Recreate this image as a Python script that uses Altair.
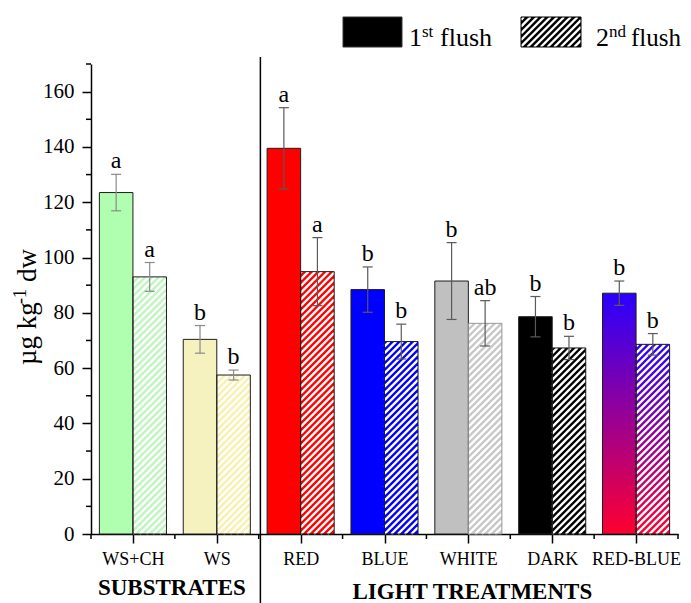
import json
import altair as alt
import pandas as pd

# ---------------- data ----------------
categories = ["WS+CH", "WS", "RED", "BLUE", "WHITE", "DARK", "RED-BLUE"]
groups = ["SUBSTRATES", "SUBSTRATES", "LIGHT TREATMENTS", "LIGHT TREATMENTS",
          "LIGHT TREATMENTS", "LIGHT TREATMENTS", "LIGHT TREATMENTS"]
flush_names = ["1st flush", "2nd flush"]
flush1_mean = [123.5, 70.4, 139.5, 88.4, 91.5, 78.6, 87.1]
flush1_err = [6.6, 5.0, 14.7, 8.2, 13.9, 7.3, 4.4]
flush2_mean = [93.0, 57.5, 94.9, 69.6, 76.2, 67.3, 68.6]
flush2_err = [5.2, 1.8, 12.3, 6.3, 8.2, 4.2, 3.9]
flush1_letters = ["a", "b", "a", "b", "b", "b", "b"]
flush2_letters = ["a", "b", "a", "b", "ab", "b", "b"]
y_ticks = [0, 20, 40, 60, 80, 100, 120, 140, 160]
y_minor = [10, 30, 50, 70, 90, 110, 130, 150, 170]

# ---------------- layout / style ----------------
FONT = "Liberation Serif"
W, H = 587, 470
XMAX, YMAX = len(categories), 170
BAR = 0.4
SX, SY = W / XMAX, H / YMAX
PERIOD = 6.7      # hatch period (px)
HATCH_W = 2.4     # white stripe width (px)

fill1 = {"WS+CH": "#b0ffb0", "WS": "#f5f2c0", "RED": "#ff0000", "BLUE": "#0000ff",
         "WHITE": "#c0c0c0", "DARK": "#000000"}
fill2 = {"WS+CH": "#bff5bf", "WS": "#f8f1ae", "RED": "#ff0000", "BLUE": "#0000ff",
         "WHITE": "#c8c8c8", "DARK": "#000000"}
grad = alt.LinearGradient(
    gradient="linear",
    stops=[alt.GradientStop(color="#2a00ff", offset=0),
           alt.GradientStop(color="#ff0030", offset=1)],
    x1=0, x2=0, y1=0, y2=1)

rows = []
for i, cat in enumerate(categories):
    for f, (m, e, l) in enumerate([(flush1_mean, flush1_err, flush1_letters),
                                   (flush2_mean, flush2_err, flush2_letters)]):
        x0 = i + 0.5 - BAR if f == 0 else i + 0.5
        xc = x0 + BAR / 2
        rows.append(dict(cat=cat, group=groups[i], flush=flush_names[f],
                         key=f"{cat}|{f + 1}", x0=x0, x1=x0 + BAR, xc=xc,
                         mean=m[i], lo=m[i] - e[i], hi=m[i] + e[i], letter=l[i],
                         base=0.0, cl=xc - 5 / SX, cr=xc + 5 / SX, f=f + 1))
bars = pd.DataFrame(rows)


def hatch(x0, x1, y0, y1, period):
    """diagonal '/' segments clipped to a rectangle (y axis pointing up)"""
    segs = []
    w, h = x1 - x0, y1 - y0
    c = -w
    while c < h:
        xs, xe = max(0.0, -c), min(w, h - c)
        if xe > xs + 0.2:
            segs.append((x0 + xs, y0 + xs + c, x0 + xe, y0 + xe + c))
        c += period
    return segs


hrows = []
for r in rows:
    if r["f"] != 2:
        continue
    for a, b, c, d in hatch(r["x0"] * SX, r["x1"] * SX, 0, r["mean"] * SY, PERIOD):
        hrows.append(dict(hx=a / SX, hy=b / SY, hx2=c / SX, hy2=d / SY))
hatch_df = pd.DataFrame(hrows)

xs = alt.Scale(domain=[0, XMAX], nice=False, zero=False)
ys = alt.Scale(domain=[0, YMAX], nice=False, zero=True)


def X(field):
    return alt.X(field, scale=xs, title=None)


def Y(field):
    return alt.Y(field, scale=ys, title=None)


base = alt.Chart(bars)
plain = base.transform_filter(alt.datum.cat != "RED-BLUE")
rb = base.transform_filter(alt.datum.cat == "RED-BLUE")

keys = [f"{c}|1" for c in fill1] + [f"{c}|2" for c in fill2]
cols = list(fill1.values()) + list(fill2.values())

bars_layer = plain.mark_rect().encode(
    x=alt.X("x0:Q", scale=xs, title=None,
            axis=alt.Axis(values=[i + 0.5 for i in range(XMAX)],
                          labelExpr=f"{json.dumps(categories)}[floor(datum.value)]",
                          tickSize=9, labelFontSize=18, labelPadding=7,
                          labelFlush=False, labelOverlap=False)),
    x2="x1:Q",
    y=alt.Y("mean:Q", scale=ys, title=None,
            axis=alt.Axis(values=y_ticks, tickSize=9, labelFontSize=21,
                          labelPadding=8, labelOverlap=False)),
    y2="base:Q",
    fill=alt.Fill("key:N", scale=alt.Scale(domain=keys, range=cols), legend=None),
)
rb_layer = rb.mark_rect(fill=grad).encode(
    x=X("x0:Q"), x2="x1:Q", y=Y("mean:Q"), y2="base:Q")

hatch_layer = alt.Chart(hatch_df).mark_rule(color="white", strokeWidth=HATCH_W).encode(
    x=X("hx:Q"), x2="hx2:Q", y=Y("hy:Q"), y2="hy2:Q")

outline = base.mark_rect(fill="white", fillOpacity=0, strokeWidth=1).encode(
    x=X("x0:Q"), x2="x1:Q", y=Y("mean:Q"), y2="base:Q",
    stroke=alt.condition(alt.datum.key == "WHITE|2", alt.value("#9a9a9a"),
                         alt.value("#1e1e1e")))

ecolor = alt.Stroke("group:N", scale=alt.Scale(domain=["SUBSTRATES", "LIGHT TREATMENTS"],
                                               range=["#8a8a8a", "#5a5a5a"]), legend=None)
err_v = base.mark_rule(strokeWidth=1.2).encode(
    x=X("xc:Q"), y=Y("lo:Q"), y2="hi:Q", stroke=ecolor)
cap_hi = base.mark_rule(strokeWidth=1.2).encode(
    x=X("cl:Q"), x2="cr:Q", y=Y("hi:Q"), stroke=ecolor)
cap_lo = base.mark_rule(strokeWidth=1.2).encode(
    x=X("cl:Q"), x2="cr:Q", y=Y("lo:Q"), stroke=ecolor)

letters = base.mark_text(font=FONT, fontSize=24, baseline="alphabetic", dy=-6,
                         color="black").encode(
    x=X("xc:Q"), y=Y("hi:Q"), text="letter:N")

# minor ticks
xminor = alt.Chart(pd.DataFrame({"b": list(range(XMAX + 1))})).mark_rule(
    color="black", strokeWidth=1.5).encode(
    x=X("b:Q"), y=alt.value(H), y2=alt.value(H + 5))
yminor = alt.Chart(pd.DataFrame({"m": y_minor})).mark_rule(
    color="black", strokeWidth=1.5).encode(
    y=Y("m:Q"), x=alt.value(-5), x2=alt.value(0))

# separator between groups
n_sub = groups.count("SUBSTRATES")
sep = alt.Chart(pd.DataFrame({"s": [n_sub + 0.02]})).mark_rule(
    color="black", strokeWidth=1.5).encode(
    x=X("s:Q"), y=alt.value(-7), y2=alt.value(H + 80))

# group labels
g1 = alt.Chart(pd.DataFrame({"g": ["SUBSTRATES"], "c": [n_sub / 2]})).mark_text(
    font=FONT, fontSize=23, fontWeight="bold", baseline="alphabetic", dx=-3,
    color="black").encode(x=X("c:Q"), y=alt.value(H + 61), text="g:N")
g2 = alt.Chart(pd.DataFrame({"g": ["LIGHT TREATMENTS"],
                             "c": [n_sub + (XMAX - n_sub) / 2]})).mark_text(
    font=FONT, fontSize=23, fontWeight="bold", baseline="alphabetic", dx=4,
    color="black").encode(x=X("c:Q"), y=alt.value(H + 65), text="g:N")

# y title (rotated, with superscript)
one = pd.DataFrame({"t": [0]})


def txt(s, x, y, size, angle=0):
    return alt.Chart(one).mark_text(font=FONT, fontSize=size, align="left",
                                    baseline="alphabetic", angle=angle,
                                    color="black", text=s).encode(
        x=alt.value(x), y=alt.value(y))


ytitle = [txt("µg kg", -55, 301, 27, 270), txt("-1", -65, 240, 18, 270),
          txt("dw", -55, 218, 27, 270)]

# legend
leg_rects = [
    alt.Chart(one).mark_rect(fill="black", stroke="#333", strokeWidth=1).encode(
        x=alt.value(252), x2=alt.value(311), y=alt.value(-47), y2=alt.value(-17)),
    alt.Chart(one).mark_rect(fill="black").encode(
        x=alt.value(430), x2=alt.value(490), y=alt.value(-47), y2=alt.value(-17)),
]
lh = pd.DataFrame([dict(x=a, y=-b, x2=c, y2=-d)
                   for a, b, c, d in hatch(430, 490, 17, 47, PERIOD)])
leg_hatch = alt.Chart(lh).mark_rule(color="white", strokeWidth=HATCH_W).encode(
    x=alt.X("x:Q", scale=None), x2="x2:Q",
    y=alt.Y("y:Q", scale=None), y2="y2:Q")
leg_outline = alt.Chart(one).mark_rect(fill="white", fillOpacity=0, stroke="black",
                                       strokeWidth=1).encode(
    x=alt.value(430), x2=alt.value(490), y=alt.value(-47), y2=alt.value(-17))
leg_text = [txt("1", 318, -18, 26), txt("st", 331, -27, 17), txt("flush", 349, -18, 26),
            txt("2", 505, -18, 26), txt("nd", 518, -27, 17), txt("flush", 540, -18, 25)]

chart = alt.layer(
    bars_layer, rb_layer, hatch_layer, outline, err_v, cap_hi, cap_lo, letters,
    xminor, yminor, sep, g1, g2, *ytitle, *leg_rects, leg_hatch, leg_outline, *leg_text
).properties(
    width=W, height=H,
    autosize=alt.AutoSizeParams(type="none"),
    padding={"left": 83, "top": 56, "right": 5, "bottom": 69},
).configure_view(strokeWidth=0).configure_axis(
    labelFont=FONT, labelColor="black", domainColor="black", tickColor="black",
    domainWidth=1.5, tickWidth=1.5, grid=False,
)

chart.save("out.html", embed_options={"renderer": "svg", "actions": False})
